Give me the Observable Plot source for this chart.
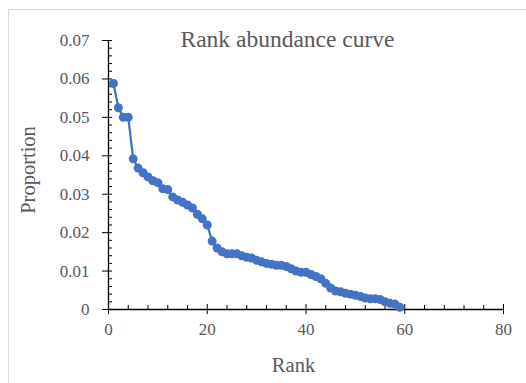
<!DOCTYPE html>
<html>
<head>
<meta charset="utf-8">
<script src="https://cdn.jsdelivr.net/npm/d3@7"></script>
<script src="https://cdn.jsdelivr.net/npm/@observablehq/plot@0.6"></script>
<style>
  html, body { margin: 0; padding: 0; background: #fff; }
  #wrap { position: relative; width: 526px; height: 383px; overflow: hidden; font-family: "Liberation Serif", "Times New Roman", serif; }
  #border { position: absolute; left: 8px; top: 9px; width: 600px; height: 500px; border-left: 1.5px solid #d9d9d9; border-top: 1.5px solid #d9d9d9; box-sizing: border-box; }
  .lbl { position: absolute; color: #595959; line-height: 1; white-space: nowrap; transform: translate(-50%, -50%); }
  #title { left: 287.5px; top: 40.4px; font-size: 23.5px; }
  #xlabel { left: 293.5px; top: 365px; font-size: 20.5px; }
  #ylabel { left: 27.7px; top: 170px; font-size: 20.5px; transform: translate(-50%, -50%) rotate(-90deg); }
  #chart { position: absolute; left: 0; top: 0; }
  #chart svg, #chart svg g, #chart svg text { font-family: "Liberation Serif", "Times New Roman", serif !important; }
</style>
</head>
<body>
<div id="wrap">
  <div id="border"></div>
  <div id="chart"></div>
  <div class="lbl" id="title">Rank abundance curve</div>
  <div class="lbl" id="xlabel">Rank</div>
  <div class="lbl" id="ylabel">Proportion</div>
</div>
<script>
const ranks = [1,2,3,4,5,6,7,8,9,10,11,12,13,14,15,16,17,18,19,20,
  21,22,23,24,25,26,27,28,29,30,31,32,33,34,35,36,37,38,39,40,
  41,42,43,44,45,46,47,48,49,50,51,52,53,54,55,56,57,58,59];
const proportions = [0.0588,0.0525,0.0500,0.0500,0.0392,0.0368,0.0356,0.0345,0.0335,0.0330,
  0.0314,0.0312,0.0293,0.0285,0.0279,0.0272,0.0264,0.0248,0.0236,0.0220,
  0.0178,0.0160,0.0150,0.0145,0.0145,0.0145,0.0140,0.0136,0.0134,0.0128,
  0.0124,0.0120,0.0118,0.0115,0.0115,0.0112,0.0106,0.0100,0.0097,0.0097,
  0.0091,0.0086,0.0080,0.0068,0.0056,0.0048,0.0046,0.0042,0.0040,0.0037,
  0.0034,0.0030,0.0028,0.0028,0.0026,0.0020,0.0016,0.0014,0.0006];
const yTicks = [0,0.01,0.02,0.03,0.04,0.05,0.06,0.07];
const yTickLabels = ["0","0.01","0.02","0.03","0.04","0.05","0.06","0.07"];
const yMinorTicks = [0.002,0.004,0.006,0.008,0.012,0.014,0.016,0.018,0.022,0.024,0.026,0.028,
  0.032,0.034,0.036,0.038,0.042,0.044,0.046,0.048,0.052,0.054,0.056,0.058,0.062,0.064,0.066,0.068];
const xTicks = [0,20,40,60,80];
const xTickLabels = ["0","20","40","60","80"];
const xMinorTicks = [4,8,12,16,24,28,32,36,44,48,52,56,64,68,72,76];

const data = ranks.map((r, i) => ({rank: r, p: proportions[i]}));
const blank = () => "";
const serif = "Liberation Serif";

const chart = Plot.plot({
  width: 526,
  height: 383,
  marginLeft: 108,
  marginRight: 23,
  marginTop: 40,
  marginBottom: 74,
  style: {fontFamily: serif, fontSize: "17px", color: "black", background: "transparent"},
  x: {domain: [0, 80]},
  y: {domain: [0, 0.07]},
  marks: [
    Plot.axisY({ticks: yTicks, tickSize: 0, tickPadding: 19, tickFormat: (d, i) => yTickLabels[i], label: null, fontSize: 17, fontFamily: serif, fontVariant: "normal", color: "#595959"}),
    Plot.axisY({ticks: yTicks, tickSize: 10, dx: 4, tickFormat: blank, label: null}),
    Plot.axisY({ticks: yMinorTicks, tickSize: 4, dx: 4, tickFormat: blank, label: null}),
    Plot.axisX({ticks: xTicks, tickSize: 0, tickPadding: 13, tickFormat: (d, i) => xTickLabels[i], label: null, fontSize: 17, fontFamily: serif, fontVariant: "normal", color: "#595959"}),
    Plot.axisX({ticks: xTicks, tickSize: 10, dy: -5, tickFormat: blank, label: null}),
    Plot.axisX({ticks: xMinorTicks, tickSize: 4, dy: -4, tickFormat: blank, label: null}),
    Plot.ruleX([0], {stroke: "black", strokeWidth: 1.3}),
    Plot.ruleY([0], {stroke: "black", strokeWidth: 1.3}),
    Plot.line(data, {x: "rank", y: "p", stroke: "#4472C4", strokeWidth: 2.25}),
    Plot.dot(data, {x: "rank", y: "p", fill: "#4472C4", r: 4.5})
  ]
});
document.getElementById("chart").appendChild(chart);
</script>
</body>
</html>
